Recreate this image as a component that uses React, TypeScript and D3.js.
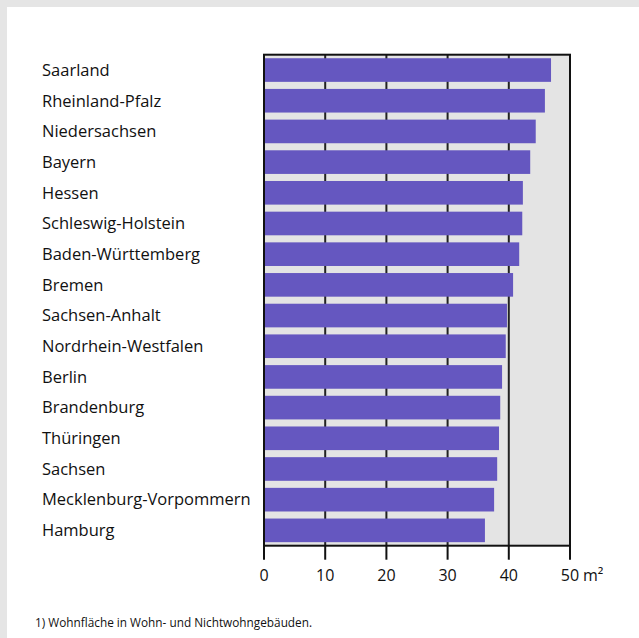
import React from "react";
import * as d3 from "d3";

const states = [
  "Saarland",
  "Rheinland-Pfalz",
  "Niedersachsen",
  "Bayern",
  "Hessen",
  "Schleswig-Holstein",
  "Baden-Württemberg",
  "Bremen",
  "Sachsen-Anhalt",
  "Nordrhein-Westfalen",
  "Berlin",
  "Brandenburg",
  "Thüringen",
  "Sachsen",
  "Mecklenburg-Vorpommern",
  "Hamburg",
];
const values = [46.9, 45.9, 44.4, 43.5, 42.3, 42.2, 41.7, 40.7, 39.7, 39.5, 38.9, 38.6, 38.4, 38.1, 37.6, 36.1];
const ticks = [0, 10, 20, 30, 40, 50];
const unit = "m²";
const footnote = "1) Wohnfläche in Wohn- und Nichtwohngebäuden.";

export default function App() {
  const W = 639;
  const H = 638;
  const x = d3.scaleLinear().domain([0, 50]).range([264, 570]);
  const y = d3.scaleBand<string>().domain(states).range([54.7, 545.7]).paddingInner(0.23).paddingOuter(0.115);
  const font = "'Open Sans', sans-serif";
  const top = 54.7;
  const bottom = 545.7;
  return (
    <svg width={W} height={H} style={{ position: "absolute", left: 0, top: 0 }} fontFamily={font}>
      <rect x={0} y={0} width={W} height={H} fill="#e5e5e5" />
      <rect x={7} y={7} width={W - 7} height={H - 7} fill="#ffffff" />
      <rect x={x(0)} y={top} width={x(50) - x(0)} height={bottom - top} fill="#e4e4e4" />
      {ticks.slice(1, -1).map((t) => (
        <line key={"g" + t} x1={x(t)} x2={x(t)} y1={top} y2={bottom} stroke="#222" strokeWidth={2} />
      ))}
      {states.map((s, i) => (
        <rect key={s} x={x(0)} y={y(s)} width={x(values[i]) - x(0)} height={y.bandwidth()} fill="#6557c0" />
      ))}
      <rect x={x(0)} y={top} width={x(50) - x(0)} height={bottom - top} fill="none" stroke="#111" strokeWidth={2} />
      {ticks.map((t) => (
        <line key={"t" + t} x1={x(t)} x2={x(t)} y1={bottom} y2={bottom + 14} stroke="#111" strokeWidth={2} />
      ))}
      {ticks.map((t) => (
        <text key={"l" + t} x={x(t)} y={581} textAnchor="middle" fontSize={16} fill="#111">
          {t}
        </text>
      ))}
      <text x={x(50) + 13} y={581} fontSize={16} fill="#111">
        {unit}
      </text>
      {states.map((s) => (
        <text key={"n" + s} x={42} y={(y(s) as number) + y.bandwidth() / 2} dy="0.35em" fontSize={16.5} fill="#111">
          {s}
        </text>
      ))}
      <text x={35} y={627} fontSize={11.8} fill="#111">
        {footnote}
      </text>
    </svg>
  );
}
